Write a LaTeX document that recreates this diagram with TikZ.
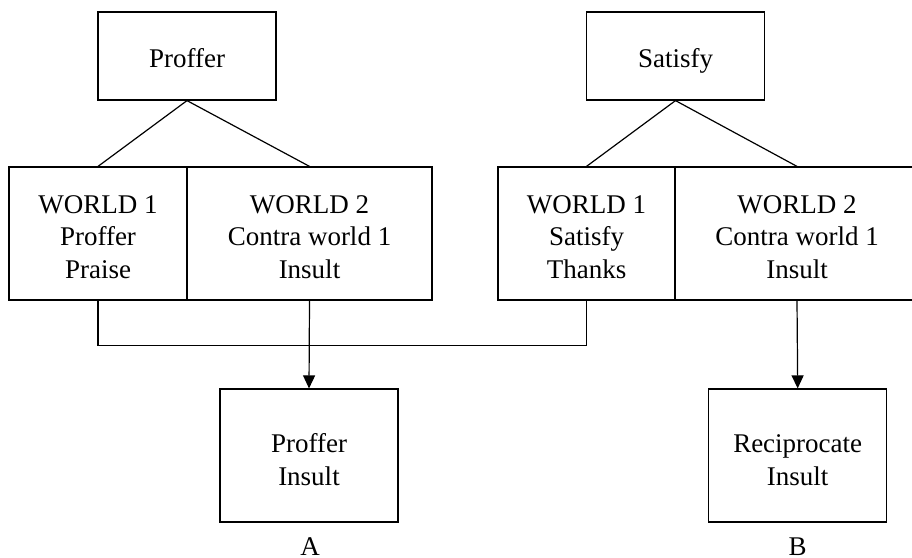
\documentclass[tikz,border=0pt]{standalone}
\usepackage{fontspec}
\setmainfont{Liberation Serif}
\usetikzlibrary{arrows.meta}
\begin{document}
\begin{tikzpicture}[x=1pt,y=-1pt,
  lw/.style={line width=1.2pt},
  box/.style={draw,lw,rectangle,inner sep=0pt,align=center,text depth=0pt,
    font=\fontsize{27}{32.5}\selectfont},
  arr/.style={lw,-{Triangle[length=13pt,width=12pt]}},
  lbl/.style={font=\fontsize{27}{32}\selectfont,anchor=base,inner sep=0pt,text depth=0pt}]
\useasboundingbox (0,0) rectangle (912,557);

% top-level acts
\node[box,text height=22pt,minimum width=178pt,minimum height=88pt] (proffer) at (187,56) {Proffer};
\node[box,text height=22pt,minimum width=178pt,minimum height=88pt] (satisfy) at (675.5,56) {Satisfy};

% possible worlds
\node[box,text height=89pt,minimum width=178pt,minimum height=133pt] (w1) at (98,233.5)
  {WORLD 1\\Proffer\\Praise};
\node[box,text height=89pt,minimum width=245pt,minimum height=133pt] (w2) at (309.5,233.5)
  {WORLD 2\\Contra world 1\\Insult};
\node[box,text height=89pt,minimum width=177pt,minimum height=133pt] (w3) at (586.5,233.5)
  {WORLD 1\\Satisfy\\Thanks};
\node[box,text height=89pt,minimum width=244pt,minimum height=133pt] (w4) at (797,233.5)
  {WORLD 2\\Contra world 1\\Insult};

% outcomes
\node[box,text height=59pt,minimum width=178pt,minimum height=133pt] (pi) at (309,455.5) {Proffer\\Insult};
\node[box,text height=59pt,minimum width=178pt,minimum height=133pt] (ri) at (797.7,455.5) {Reciprocate\\Insult};

\node[lbl] (la) at (310,555) {A};
\node[lbl] (lb) at (797.7,555) {B};

% branches
\draw[lw] (proffer.south) -- (w1.north);
\draw[lw] (proffer.south) -- (w2.north);
\draw[lw] (satisfy.south) -- (w3.north);
\draw[lw] (satisfy.south) -- (w4.north);

% joint bracket and arrows
\draw[lw] (w1.south) -- ++(0,45) -| (w3.south);
\draw[arr] (w2.south) -- (pi.north);
\draw[arr] (w4.south) -- (ri.north);
\end{tikzpicture}
\end{document}
